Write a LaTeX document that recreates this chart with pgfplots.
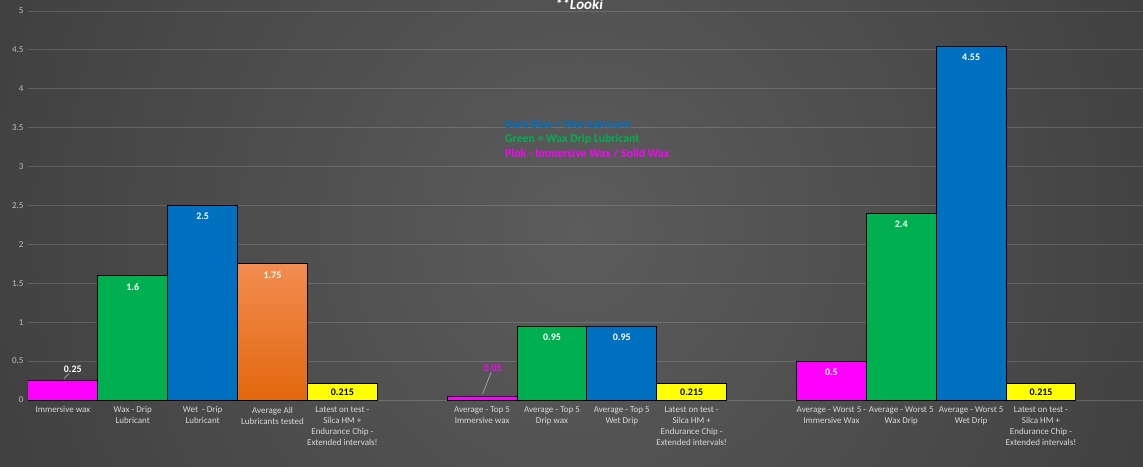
\documentclass[border=0pt]{standalone}
\usepackage{pgfplots}
\pgfplotsset{compat=1.18}
\usepackage{fontspec}
\setmainfont{Carlito}

\definecolor{pinkc}{HTML}{FF00FF}
\definecolor{greenc}{HTML}{00B050}
\definecolor{bluec}{HTML}{0070C0}
\definecolor{yellowc}{HTML}{FFFF00}
\definecolor{orangetop}{HTML}{F28C50}
\definecolor{orangebot}{HTML}{E2680E}
\definecolor{bgin}{HTML}{5C5C5C}
\definecolor{bgout}{HTML}{242424}
\pgfdeclareradialshading{bgshade}{\pgfpoint{0bp}{0bp}}{color(0bp)=(bgin); color(50bp)=(bgout)}

\pgfplotsset{
  inlabel/.style={nodes near coords,
    nodes near coords style={anchor=north, yshift=#1, text=white,
      font=\fontsize{10}{12}\selectfont\bfseries}},
}

\begin{document}
\begin{tikzpicture}[x=1pt,y=1pt]
\useasboundingbox (0,0) rectangle (1143,466);
\begin{scope}
  \clip (0,0) rectangle (1143,466);
  \shade[shading=bgshade] (-40,-414) rectangle (1200,886);
\end{scope}

\begin{axis}[
    at={(28pt,66pt)}, anchor=south west, scale only axis,
    width=1115pt, height=389pt,
    xmin=-0.5, xmax=15.46,
    ymin=0, ymax=5,
    ybar, bar width=1, bar shift=0pt,
    axis line style={draw=none},
    tick style={draw=none},
    ytick={0,0.5,1,1.5,2,2.5,3,3.5,4,4.5,5},
    ymajorgrids=true,
    major grid style={draw=white, draw opacity=0.15, line width=0.8pt},
    extra y ticks={0}, extra y tick labels={},
    extra y tick style={grid=major, major grid style={draw=white!55!black, line width=1pt}},
    /pgf/number format/assume math mode=true,
    /pgf/number format/precision=3,
    yticklabel style={text=white!75!black, font=\fontsize{9}{11}\selectfont, xshift=-1pt},
    xtick={0,1,2,3,4,6,7,8,9,11,12,13,14},
    xticklabels={
      Immersive wax,
      {Wax - Drip\\Lubricant},
      {Wet\ \ - Drip\\Lubricant},
      {Average All\\Lubricants tested},
      {Latest on test -\\Silca HM +\\Endurance Chip -\\Extended intervals!},
      {Average - Top 5\\Immersive wax},
      {Average - Top 5\\Drip wax},
      {Average - Top 5\\Wet Drip},
      {Latest on test -\\Silca HM +\\Endurance Chip -\\Extended intervals!},
      {Average - Worst 5 -\\Immersive Wax},
      {Average - Worst 5\\Wax Drip},
      {Average - Worst 5\\Wet Drip},
      {Latest on test -\\Silca HM +\\Endurance Chip -\\Extended intervals!}},
    xticklabel style={align=center, text=white!85!black,
      font=\fontsize{9}{11}\selectfont, yshift=1pt},
    every axis plot/.append style={draw=black, line width=1pt},
]

% pink: immersive / solid wax
\addplot[fill=pinkc, nodes near coords={},
  every node near coord/.style={inner sep=0pt,
    pin={[pin distance=5pt, inner sep=0pt, text=white,
      font=\fontsize{10}{12}\selectfont\bfseries,
      pin edge={draw=white!75!black, line width=0.5pt}]86:0.25}}]
  coordinates {(0,0.25)};
\addplot[fill=pinkc, nodes near coords={},
  every node near coord/.style={inner sep=0pt,
    pin={[pin distance=22pt, inner sep=0pt, text=pinkc,
      font=\fontsize{10}{12}\selectfont\bfseries,
      pin edge={draw=white!75!black, line width=0.5pt}]87:0.05}}]
  coordinates {(6,0.05)};
\addplot[fill=pinkc, inlabel=-4pt] coordinates {(11,0.5)};

% green: wax drip
\addplot[fill=greenc, inlabel=-4pt] coordinates {(1,1.6) (7,0.95) (12,2.4)};

% blue: wet drip
\addplot[fill=bluec, inlabel=-4pt] coordinates {(2,2.5) (8,0.95) (13,4.55)};

% orange: average of all
\addplot[top color=orangetop, bottom color=orangebot, inlabel=-4pt]
  coordinates {(3,1.75)};

% yellow: latest on test
\addplot[fill=yellowc, inlabel=-1.5pt,
  nodes near coords style={text=black}]
  coordinates {(4,0.215) (9,0.215) (14,0.215)};
\end{axis}

% colour key typed as text boxes in the original
\node[anchor=base west, align=left, inner sep=0pt,
  font=\fontsize{11.8}{14.5}\selectfont\bfseries] at (505,308.5)
  {\textcolor{bluec}{Dark Blue = Wet lubricant}\\
   \textcolor{greenc}{Green = Wax Drip Lubricant}\\
   \textcolor{pinkc}{Pink - Immersive Wax / Solid Wax}};

\node[anchor=base, inner sep=0pt, text=white,
  font=\fontsize{15}{18}\selectfont\bfseries\itshape] at (579,456.5) {**Looki};
\end{tikzpicture}
\end{document}
